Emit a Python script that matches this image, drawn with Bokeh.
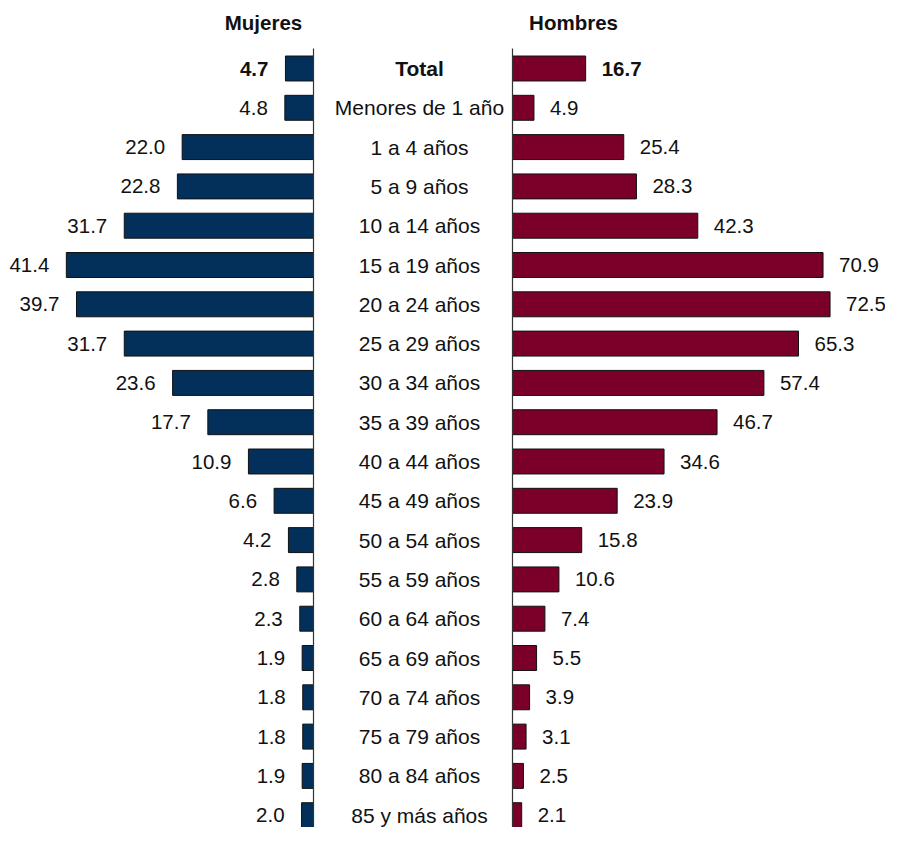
from bokeh.plotting import figure
from bokeh.models import ColumnDataSource, Range1d
from bokeh.core.properties import value
from bokeh.embed import file_html
from bokeh.resources import INLINE

groups = ["Total", "Menores de 1 año", "1 a 4 años", "5 a 9 años", "10 a 14 años",
          "15 a 19 años", "20 a 24 años", "25 a 29 años", "30 a 34 años", "35 a 39 años",
          "40 a 44 años", "45 a 49 años", "50 a 54 años", "55 a 59 años", "60 a 64 años",
          "65 a 69 años", "70 a 74 años", "75 a 79 años", "80 a 84 años", "85 y más años"]
mujeres = [4.7, 4.8, 22.0, 22.8, 31.7, 41.4, 39.7, 31.7, 23.6, 17.7,
           10.9, 6.6, 4.2, 2.8, 2.3, 1.9, 1.8, 1.8, 1.9, 2.0]
hombres = [16.7, 4.9, 25.4, 28.3, 42.3, 70.9, 72.5, 65.3, 57.4, 46.7,
           34.6, 23.9, 15.8, 10.6, 7.4, 5.5, 3.9, 3.1, 2.5, 2.1]
headers = ["Mujeres", "Hombres"]

FONT = "Liberation Sans"
NAVY = "#03305a"
MAROON = "#7b0029"
TXT = "#111111"

W, H = 885, 827
zero_r, sc_r = 512, 4.38   # right (Hombres) axis px, px per unit
zero_l, sc_l = 313, 5.97   # left (Mujeres) axis px, px per unit
row0, step = 68, 39.3

rows = list(range(len(groups)))
src = ColumnDataSource(dict(
    y=rows,
    cat=groups,
    m=mujeres,
    h=hombres,
    m_lab=[f"{v:.1f}" for v in mujeres],
    h_lab=[f"{v:.1f}" for v in hombres],
    style=["bold" if i == 0 else "normal" for i in rows],
))

p = figure(width=W, height=H, output_backend="svg", toolbar_location=None,
           x_range=Range1d(-zero_r / sc_r, (W - zero_r) / sc_r),
           y_range=Range1d((H - row0) / step, -row0 / step),
           min_border=0)
p.extra_x_ranges = {"left": Range1d(zero_l / sc_l, (zero_l - W) / sc_l)}
p.axis.visible = False
p.grid.visible = False
p.outline_line_color = None
p.background_fill_color = "white"
p.border_fill_color = "white"

# bars
p.hbar(y="y", left=0, right="m", height=0.635, source=src, x_range_name="left",
       fill_color=NAVY, line_color="#111111", line_width=1)
p.hbar(y="y", left=0, right="h", height=0.635, source=src,
       fill_color=MAROON, line_color="#111111", line_width=1)

# axis lines
ytop = (48 - row0) / step
p.segment(x0=[0], y0=[ytop], x1=[0], y1=[21], x_range_name="left",
          line_color="#333333", line_width=1.2)
p.segment(x0=[0], y0=[ytop], x1=[0], y1=[21],
          line_color="#333333", line_width=1.2)

# value labels
p.text(x="m", y="y", text="m_lab", source=src, x_range_name="left",
       x_offset=-17, text_align="right", text_baseline="middle",
       text_font=value(FONT), text_font_size="20.5px", text_font_style="style",
       text_color=TXT)
p.text(x="h", y="y", text="h_lab", source=src,
       x_offset=16, text_align="left", text_baseline="middle",
       text_font=value(FONT), text_font_size="20.5px", text_font_style="style",
       text_color=TXT)

# category labels
p.text(x=0, y="y", text="cat", source=src, x_offset=-93,
       text_align="center", text_baseline="middle",
       text_font=value(FONT), text_font_size="21px", text_font_style="style",
       text_color=TXT)

# headers
hy = (22 - row0) / step
p.text(x=[0], y=[hy], text=[headers[0]], x_range_name="left", x_offset=-50,
       text_align="center", text_baseline="middle",
       text_font=value(FONT), text_font_size="20.5px", text_font_style="bold",
       text_color=TXT)
p.text(x=[0], y=[hy], text=[headers[1]], x_offset=61,
       text_align="center", text_baseline="middle",
       text_font=value(FONT), text_font_size="20.5px", text_font_style="bold",
       text_color=TXT)

open("out.html", "w").write(file_html(p, INLINE))
